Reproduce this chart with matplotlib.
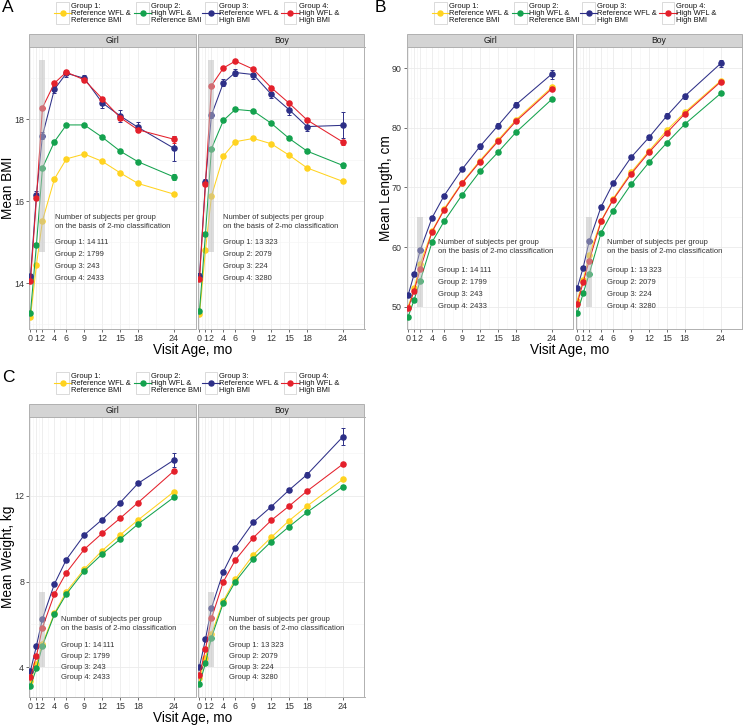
import matplotlib
matplotlib.use('Agg')
import matplotlib.pyplot as plt
from matplotlib.patches import Rectangle
from matplotlib.lines import Line2D

plt.rcParams['font.family'] = ['Liberation Sans', 'DejaVu Sans']

# visit ages and labels
months = [0, 1, 2, 4, 6, 9, 12, 15, 18, 24]
month_labels = ['0', '1', '2', '4', '6', '9', '12', '15', '18', '24']
sexes = ['Girl', 'Boy']
group_names = ['Group 1:\nReference WFL &\nReference BMI',
               'Group 2:\nHigh WFL &\nReference BMI',
               'Group 3:\nReference WFL &\nHigh BMI',
               'Group 4:\nHigh WFL &\nHigh BMI']
group_colors = ['#FFD320', '#14A24E', '#2D2F87', '#E4202B']
counts_girl = ['14\u2009111', '1799', '243', '2433']
counts_boy = ['13\u2009323', '2079', '224', '3280']

# mean BMI, groups 1-4
bmi_girl = [[13.17, 14.45, 15.52, 16.54, 17.03, 17.15, 16.97, 16.69, 16.43, 16.17],
            [13.28, 14.94, 16.81, 17.45, 17.86, 17.86, 17.56, 17.22, 16.96, 16.59],
            [14.17, 16.16, 17.60, 18.73, 19.12, 19.00, 18.40, 18.08, 17.80, 17.29],
            [14.06, 16.07, 18.28, 18.88, 19.15, 18.96, 18.50, 18.04, 17.74, 17.51]]
bmi_boy = [[13.24, 14.80, 16.12, 17.10, 17.45, 17.53, 17.40, 17.12, 16.81, 16.48],
           [13.32, 15.20, 17.28, 17.97, 18.24, 18.20, 17.90, 17.53, 17.22, 16.87],
           [14.17, 16.47, 18.10, 18.89, 19.14, 19.09, 18.61, 18.23, 17.82, 17.85],
           [14.09, 16.42, 18.82, 19.25, 19.42, 19.22, 18.77, 18.39, 17.98, 17.44]]
bmi_girl_ci = [[0.01, 0.01, 0.01, 0.01, 0.01, 0.01, 0.01, 0.01, 0.01, 0.02],
               [0.02, 0.03, 0.03, 0.03, 0.03, 0.03, 0.03, 0.04, 0.04, 0.07],
               [0.06, 0.08, 0.08, 0.08, 0.08, 0.09, 0.12, 0.14, 0.12, 0.30],
               [0.03, 0.03, 0.03, 0.03, 0.03, 0.03, 0.04, 0.05, 0.05, 0.08]]
bmi_boy_ci = [[0.01, 0.01, 0.01, 0.01, 0.01, 0.01, 0.01, 0.01, 0.01, 0.02],
              [0.02, 0.03, 0.03, 0.03, 0.03, 0.03, 0.03, 0.04, 0.04, 0.07],
              [0.07, 0.08, 0.08, 0.08, 0.08, 0.10, 0.10, 0.12, 0.10, 0.32],
              [0.03, 0.03, 0.03, 0.03, 0.03, 0.03, 0.03, 0.04, 0.04, 0.06]]

# mean length, cm
len_girl = [[50.00, 53.07, 57.15, 62.70, 66.40, 70.80, 74.50, 77.90, 81.30, 86.77],
            [48.32, 51.17, 54.30, 60.84, 64.30, 68.72, 72.68, 75.87, 79.22, 84.76],
            [51.96, 55.47, 59.44, 64.92, 68.60, 73.02, 76.87, 80.34, 83.85, 89.00],
            [49.70, 52.70, 56.26, 62.57, 66.20, 70.67, 74.30, 77.70, 81.06, 86.53]]
len_boy = [[51.00, 54.47, 58.60, 64.40, 68.10, 72.50, 76.10, 79.60, 82.60, 87.88],
           [48.88, 52.23, 55.47, 62.40, 66.09, 70.50, 74.19, 77.49, 80.61, 85.76],
           [53.07, 56.54, 60.95, 66.76, 70.67, 75.03, 78.38, 82.00, 85.31, 90.79],
           [50.50, 54.08, 57.70, 64.30, 67.93, 72.23, 75.87, 79.16, 82.35, 87.70]]
len_girl_ci = [[0.05, 0.05, 0.05, 0.05, 0.05, 0.05, 0.05, 0.06, 0.07, 0.10],
               [0.10, 0.10, 0.10, 0.10, 0.10, 0.12, 0.12, 0.15, 0.18, 0.25],
               [0.30, 0.30, 0.30, 0.30, 0.30, 0.30, 0.35, 0.40, 0.40, 0.75],
               [0.10, 0.10, 0.10, 0.10, 0.10, 0.12, 0.12, 0.15, 0.18, 0.25]]
len_boy_ci = [[0.05, 0.05, 0.05, 0.05, 0.05, 0.05, 0.05, 0.06, 0.07, 0.10],
              [0.10, 0.10, 0.10, 0.10, 0.10, 0.12, 0.12, 0.15, 0.18, 0.25],
              [0.30, 0.30, 0.30, 0.30, 0.30, 0.30, 0.35, 0.40, 0.40, 0.55],
              [0.10, 0.10, 0.10, 0.10, 0.10, 0.12, 0.12, 0.15, 0.18, 0.25]]

# mean weight, kg
wt_girl = [[3.38, 4.16, 5.10, 6.52, 7.53, 8.59, 9.45, 10.18, 10.88, 12.20],
           [3.13, 3.95, 5.01, 6.47, 7.42, 8.50, 9.29, 9.98, 10.69, 11.94],
           [3.84, 5.01, 6.27, 7.89, 9.03, 10.18, 10.90, 11.69, 12.59, 13.68],
           [3.53, 4.54, 5.85, 7.42, 8.42, 9.51, 10.26, 10.96, 11.69, 13.17]]
wt_boy = [[3.49, 4.42, 5.56, 7.11, 8.12, 9.25, 10.07, 10.85, 11.53, 12.78],
          [3.22, 4.19, 5.39, 7.02, 8.00, 9.06, 9.87, 10.57, 11.24, 12.44],
          [4.03, 5.31, 6.77, 8.47, 9.59, 10.77, 11.50, 12.28, 13.00, 14.77],
          [3.64, 4.84, 6.29, 8.00, 9.01, 10.05, 10.86, 11.53, 12.23, 13.49]]
wt_girl_ci = [[0.01, 0.01, 0.01, 0.01, 0.01, 0.01, 0.01, 0.01, 0.02, 0.03],
              [0.02, 0.02, 0.02, 0.02, 0.02, 0.03, 0.03, 0.04, 0.04, 0.07],
              [0.05, 0.05, 0.05, 0.06, 0.07, 0.07, 0.08, 0.09, 0.10, 0.34],
              [0.02, 0.02, 0.02, 0.02, 0.02, 0.03, 0.03, 0.04, 0.04, 0.07]]
wt_boy_ci = [[0.01, 0.01, 0.01, 0.01, 0.01, 0.01, 0.01, 0.01, 0.02, 0.03],
             [0.02, 0.02, 0.02, 0.02, 0.02, 0.03, 0.03, 0.04, 0.04, 0.07],
             [0.05, 0.05, 0.05, 0.06, 0.07, 0.07, 0.08, 0.09, 0.10, 0.39],
             [0.02, 0.02, 0.02, 0.02, 0.02, 0.03, 0.03, 0.04, 0.04, 0.07]]

W, H = 744, 728
fig = plt.figure(figsize=(W / 100, H / 100), dpi=100)

minor_x = [(a + b) / 2 for a, b in zip(months[:-1], months[1:])]


def px_axes(l, t, r, b):
    return fig.add_axes([l / W, 1 - b / H, (r - l) / W, (b - t) / H])


def draw_legend(x0, top):
    offsets = [0, 80, 148.3, 227.6]
    for off, name, col in zip(offsets, group_names, group_colors):
        bx = x0 + off
        fig.add_artist(Rectangle((bx / W, 1 - (top + 22.5) / H), 12.5 / W, 22.5 / H,
                                 transform=fig.transFigure, facecolor='white',
                                 edgecolor='#d4d4d4', lw=0.6))
        cy = 1 - (top + 11.5) / H
        fig.add_artist(Line2D([(bx - 2.5) / W, (bx + 15) / W], [cy, cy], color=col, lw=0.8))
        fig.add_artist(Line2D([(bx + 6.25) / W], [cy], marker='o', ms=3.6, color=col, lw=0))
        fig.text((bx + 14.7) / W, cy, name, fontsize=5.4, va='center', ha='left',
                 linespacing=1.0, color='#111111')


def draw_panel(letter, left, top, bottom, ylabel, ylim, yticks, yminor, rect_y,
               data, ci, note):
    draw_legend(left + 27, top - 45)
    fig.text(2 / W if left < 100 else (left - 32) / W, 1 - (top - 39) / H, letter,
             fontsize=12.5, va='center', ha='left')
    for k, sex in enumerate(sexes):
        l = left + k * 169
        ax = px_axes(l, top, l + 166.2, bottom)
        ax.set_xlim(-0.2, 27.6)
        ax.set_ylim(*ylim)
        ax.set_xticks(months)
        ax.set_xticklabels(month_labels)
        ax.set_xticks(minor_x, minor=True)
        ax.set_yticks(yticks)
        ax.set_yticks(yminor, minor=True)
        ax.grid(which='major', color='#ebebeb', lw=0.6, zorder=0)
        ax.grid(which='minor', color='#f4f4f4', lw=0.4, zorder=0)
        ax.set_axisbelow(True)
        ax.tick_params(which='major', length=2.2, width=0.5, color='#333333',
                       labelsize=6.4, labelcolor='#333333', pad=1.5)
        ax.tick_params(which='minor', length=0)
        if k == 1:
            ax.tick_params(axis='y', left=False, labelleft=False)
        for s in ax.spines.values():
            s.set_color('#b0b0b0')
            s.set_linewidth(0.7)
        # facet strip
        sh = 12.5 / (bottom - top)
        ax.add_patch(Rectangle((0, 1), 1, sh, transform=ax.transAxes, clip_on=False,
                               facecolor='#d4d4d4', edgecolor='#b0b0b0', lw=0.7))
        ax.text(0.5, 1 + sh / 2, sex, transform=ax.transAxes, ha='center', va='center',
                fontsize=6.2, color='#1a1a1a')
        series = data[k]
        errs = ci[k]
        for i in range(4):
            col = group_colors[i]
            ax.plot(months, series[i], color=col, lw=0.75, zorder=2 + i)
            ax.errorbar(months, series[i], yerr=errs[i], fmt='none', ecolor=col,
                        elinewidth=0.7, capsize=1.6, capthick=0.7, zorder=2 + i)
            ax.plot(months, series[i], 'o', color=col, ms=3.7, zorder=2.5 + i)
        ax.add_patch(Rectangle((1.5, rect_y[0]), 1, rect_y[1] - rect_y[0],
                               facecolor='#bdbdbd', alpha=0.5, lw=0, zorder=10))
        nx, hy, hstep, gy, gstep = note[k]
        counts = counts_girl if k == 0 else counts_boy
        ax.text(nx, hy, 'Number of subjects per group', fontsize=5.5, color='#333333',
                va='center', zorder=11)
        ax.text(nx, hy - hstep, 'on the basis of 2-mo classification', fontsize=5.5,
                color='#333333', va='center', zorder=11)
        for j in range(4):
            ax.text(nx, gy - j * gstep, 'Group %d: %s' % (j + 1, counts[j]), fontsize=5.5,
                    color='#333333', va='center', zorder=11)
    fig.text((left - 21) / W, 1 - (top + bottom) / 2 / H, ylabel, rotation=90,
             fontsize=9.8, ha='center', va='center')
    fig.text((left + 163) / W, 1 - (bottom + 21) / H, 'Visit Age, mo', fontsize=9.8,
             ha='center', va='center')


draw_panel('A', 29.3, 46.7, 329.3, 'Mean BMI', (12.87, 19.77), [14, 16, 18],
           [13, 15, 17, 19], (14.75, 19.45),
           [bmi_girl, bmi_boy], [bmi_girl_ci, bmi_boy_ci],
           [(4.1, 15.6, 0.21, 15.0, 0.3), (4.0, 15.6, 0.21, 15.0, 0.3)])

draw_panel('B', 407, 46.7, 329.3, 'Mean Length, cm', (46.2, 93.6), [50, 60, 70, 80, 90],
           [55, 65, 75, 85], (50, 65),
           [len_girl, len_boy], [len_girl_ci, len_boy_ci],
           [(5.0, 60.73, 1.53, 56.1, 2.03), (5.0, 60.73, 1.53, 56.1, 2.03)])

draw_panel('C', 29.3, 416.7, 697.3, 'Mean Weight, kg', (2.6, 15.7), [4, 8, 12],
           [6, 10, 14], (4, 7.5),
           [wt_girl, wt_boy], [wt_girl_ci, wt_boy_ci],
           [(5.1, 6.21, 0.42, 5.01, 0.5), (5.0, 6.21, 0.42, 5.01, 0.5)])

fig.savefig('out.png', dpi=100)
